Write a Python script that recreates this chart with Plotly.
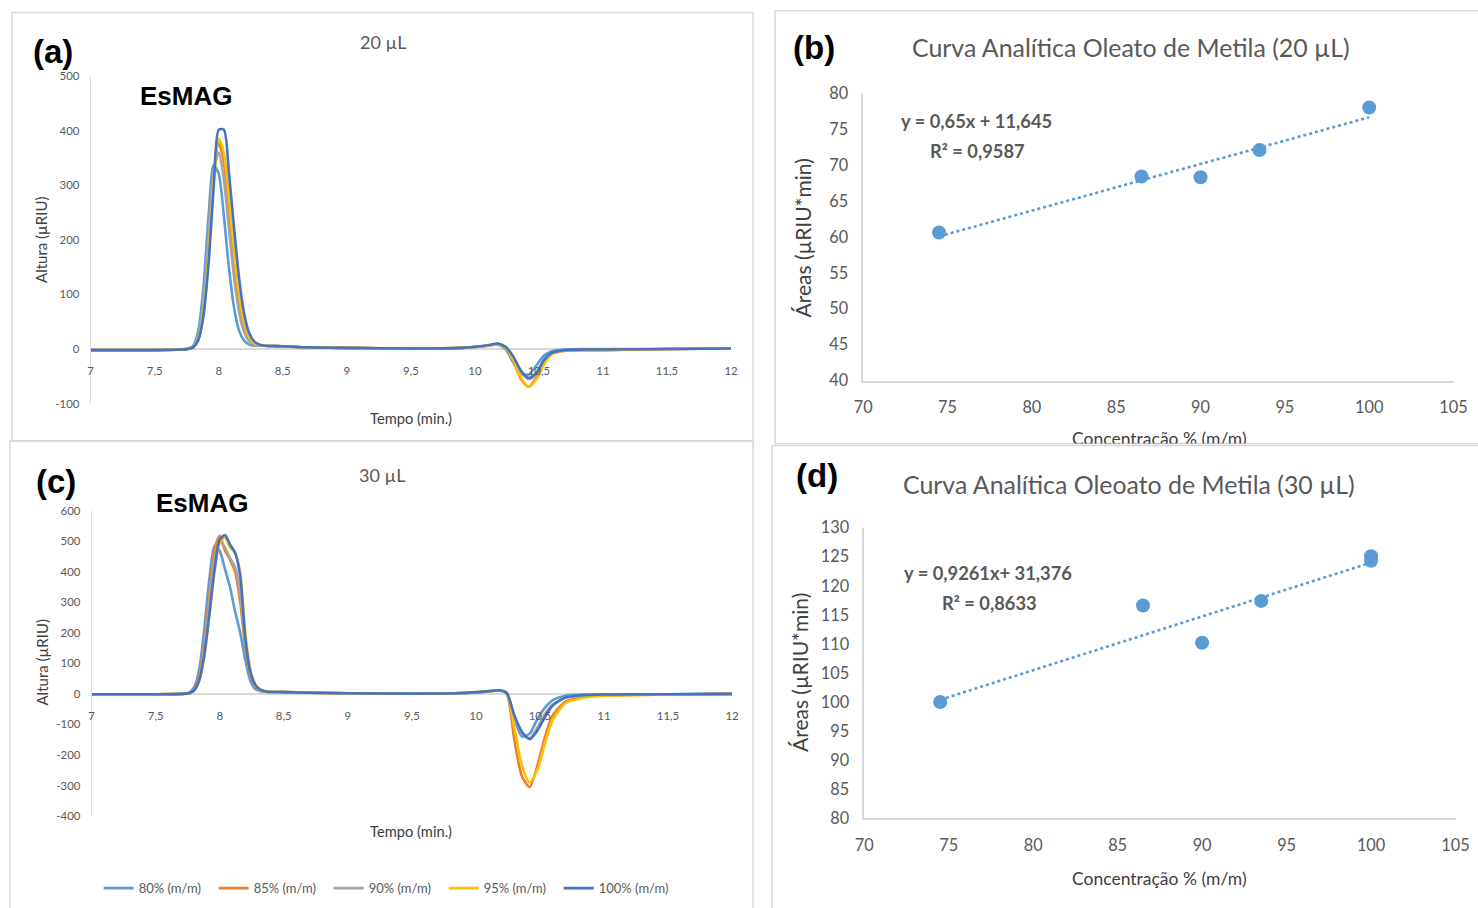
import plotly.graph_objects as go

# Figure size and the measured mapping figure-pixel -> photographed pixel
FW, FH = 1478, 908
OX, OY = 9.4, 9.9        # where the figure origin lands in the photo
SX, SY = 0.9838, 0.9779  # scale of the photo relative to figure pixels

# ---------------- data ----------------
time_min = [7.0, 7.5, 7.7,
            7.76, 7.80, 7.84, 7.88, 7.92, 7.96, 8.00, 8.04, 8.08, 8.12, 8.16, 8.20, 8.24, 8.28, 8.32, 8.36,
            8.5, 8.7, 9.0, 9.5, 9.9,
            10.1, 10.18,
            10.24, 10.30, 10.36, 10.42, 10.48, 10.54, 10.60,
            10.70, 10.85, 11.0, 11.5, 12.0]

# 20 uL chromatograms (Altura, uRIU)
h20_80 = [-2, -2, -1, 1, 6, 33, 111, 242, 337, 321, 244, 148, 75, 33, 15, 8, 6, 6, 6,
          5, 3, 2, 1, 2, 6, 8, 0, -25, -45, -47, -30, -12, -4, -1, 0, 0, 0, 1]
h20_85 = [-2, -2, -1, 0, 3, 18, 69, 177, 313, 378, 342, 255, 158, 83, 38, 17, 9, 7, 6,
          5, 3, 2, 1, 2, 6, 9, 2, -22, -55, -69, -52, -25, -9, -3, -2, -2, 0, 1]
h20_90 = [-2, -2, -1, 0, 5, 25, 87, 203, 326, 360, 310, 220, 131, 66, 30, 14, 8, 7, 6,
          5, 3, 2, 1, 2, 6, 9, 3, -15, -42, -55, -45, -20, -8, -3, -2, -2, 0, 1]
h20_95 = [-2, -2, -1, 0, 3, 17, 64, 168, 306, 385, 359, 277, 180, 98, 47, 21, 10, 7, 6,
          5, 3, 2, 1, 2, 6, 9, 3, -20, -52, -69, -56, -28, -10, -3, -2, -2, 0, 1]
h20_100 = [-2, -2, -1, 0, 3, 16, 59, 155, 294, 402, 402, 322, 221, 128, 63, 28, 13, 8, 6,
           5, 3, 2, 1, 2, 7, 10, 4, -14, -40, -53, -44, -20, -7, -2, -1, -1, 0, 1]

# 30 uL chromatograms
h30_80 = [-1, -1, 0, 4, 22, 80, 215, 380, 485, 468, 410, 350, 270, 200, 110, 42, 15, 9, 7,
          6, 4, 2, 1, 3, 8, 11, 3, -80, -140, -130, -82, -45, -20, -6, -2, -1, -1, 0]
h30_85 = [-1, -1, 0, 3, 15, 60, 170, 330, 475, 518, 470, 440, 400, 300, 150, 60, 22, 11, 7,
          6, 4, 2, 1, 3, 9, 12, 0, -150, -270, -305, -235, -140, -70, -25, -10, -5, -2, 0]
h30_90 = [-1, -1, 0, 2, 12, 50, 150, 305, 445, 500, 480, 445, 415, 330, 165, 65, 24, 12, 7,
          6, 4, 2, 1, 3, 8, 11, 2, -75, -130, -145, -110, -65, -35, -12, -5, -3, -1, 0]
h30_95 = [-1, -1, 0, 2, 10, 42, 125, 260, 400, 495, 512, 480, 462, 395, 200, 80, 30, 14, 8,
          6, 4, 2, 1, 3, 8, 11, 3, -110, -235, -290, -250, -160, -85, -30, -12, -6, -2, 0]
h30_100 = [-1, -1, 0, 2, 12, 45, 130, 265, 410, 505, 520, 490, 462, 385, 180, 70, 28, 13, 8,
           6, 4, 2, 1, 3, 9, 12, 4, -70, -125, -148, -120, -75, -38, -12, -4, -2, -1, 0]

series_names = ["80% (m/m)", "85% (m/m)", "90% (m/m)", "95% (m/m)", "100% (m/m)"]
series_colors = ["#5B9BD5", "#ED7D31", "#A5A5A5", "#FFC000", "#4472C4"]

# tick labels (hyphen minus as in the original)
yt_20 = [-100, 0, 100, 200, 300, 400, 500]
yt_20_text = ["-100", "0", "100", "200", "300", "400", "500"]
yt_30 = [-400, -300, -200, -100, 0, 100, 200, 300, 400, 500, 600]
yt_30_text = ["-400", "-300", "-200", "-100", "0", "100", "200", "300", "400", "500", "600"]

# calibration curves
conc_20 = [74.5, 86.5, 90.0, 93.5, 100.0]
area_20 = [60.6, 68.4, 68.3, 72.1, 78.0]
conc_30 = [74.5, 86.5, 90.0, 93.5, 100.0, 100.0]
area_30 = [100.0, 116.6, 110.2, 117.4, 124.3, 125.1]
slope_20, icpt_20, r2_20 = 0.65, 11.645, 0.9587
slope_30, icpt_30, r2_30 = 0.9261, 31.376, 0.8633

# ---------------- styles ----------------
CAL = "Lato, Open Sans, sans-serif"
ARIAL = "Liberation Sans, Arial, sans-serif"
GRAY = "#595959"
DARK = "#404040"
AXC = "#D9D9D9"


def px(x):
    return (x - OX) / SX / FW


def py(y):
    return 1 - (y - OY) / SY / FH


fig = go.Figure()

chrom_20 = [h20_80, h20_85, h20_90, h20_95, h20_100]
chrom_30 = [h30_80, h30_85, h30_90, h30_95, h30_100]
for name, col, ys in zip(series_names, series_colors, chrom_20):
    fig.add_trace(go.Scatter(x=time_min, y=ys, mode="lines", name=name,
                             line=dict(color=col, width=2.6, shape="spline", smoothing=0.7),
                             xaxis="x", yaxis="y", showlegend=True))
for name, col, ys in zip(series_names, series_colors, chrom_30):
    fig.add_trace(go.Scatter(x=time_min, y=ys, mode="lines", name=name,
                             line=dict(color=col, width=2.6, shape="spline", smoothing=0.7),
                             xaxis="x3", yaxis="y3", showlegend=False))

# calibration (b)
fig.add_trace(go.Scatter(x=[min(conc_20), max(conc_20)],
                         y=[slope_20 * min(conc_20) + icpt_20, slope_20 * max(conc_20) + icpt_20],
                         mode="lines", line=dict(color="#5B9BD5", width=2.6, dash="dot"),
                         xaxis="x2", yaxis="y2", showlegend=False))
fig.add_trace(go.Scatter(x=conc_20, y=area_20, mode="markers",
                         marker=dict(color="#5B9BD5", size=14), cliponaxis=False,
                         xaxis="x2", yaxis="y2", showlegend=False))
# calibration (d)
fig.add_trace(go.Scatter(x=[min(conc_30), max(conc_30)],
                         y=[slope_30 * min(conc_30) + icpt_30, slope_30 * max(conc_30) + icpt_30],
                         mode="lines", line=dict(color="#5B9BD5", width=2.6, dash="dot"),
                         xaxis="x4", yaxis="y4", showlegend=False))
fig.add_trace(go.Scatter(x=conc_30, y=area_30, mode="markers",
                         marker=dict(color="#5B9BD5", size=14), cliponaxis=False,
                         xaxis="x4", yaxis="y4", showlegend=False))

# clipped axis title of (b) (partly hidden by panel (d))
fig.add_trace(go.Scatter(x=[1159], y=[440], mode="text", text=["Concentração % (m/m)"],
                         textfont=dict(family=CAL, size=17.5, color=DARK),
                         cliponaxis=True, xaxis="x5", yaxis="y5", showlegend=False,
                         hoverinfo="skip"))


def free_pos(dom, rng):
    return dom[0] + (0 - rng[0]) / (rng[1] - rng[0]) * (dom[1] - dom[0])


ya_dom, ya_rng = [py(403), py(76)], [-100, 500]
yc_dom, yc_rng = [py(815), py(510)], [-400, 600]

tick_small = dict(family=CAL, size=11.4, color=GRAY)
tick_big = dict(family=CAL, size=16.3, color=GRAY)

common_chrom_x = dict(range=[7, 12], dtick=0.5, tick0=7, showgrid=False, showline=False,
                      zeroline=False, ticks="outside", ticklen=11, tickcolor="rgba(0,0,0,0)",
                      tickfont=tick_small, anchor="free")
common_chrom_y = dict(showgrid=False, showline=True, linecolor=AXC, linewidth=1,
                      zeroline=True, zerolinecolor=AXC, zerolinewidth=1.5, tickmode="array",
                      ticks="outside", ticklen=8, tickcolor="rgba(0,0,0,0)", tickfont=tick_small)
common_cal_x = dict(range=[70, 105], dtick=5, showgrid=False, showline=True, linecolor=AXC,
                    linewidth=1.5, zeroline=False, ticks="outside", ticklen=11.5,
                    tickcolor="rgba(0,0,0,0)", tickfont=tick_big)
common_cal_y = dict(dtick=5, showgrid=False, showline=True, linecolor=AXC, linewidth=1.5,
                    zeroline=False, ticks="outside", ticklen=10, tickcolor="rgba(0,0,0,0)",
                    tickfont=tick_big)

fig.update_layout(
    width=FW, height=FH, margin=dict(l=0, r=0, t=0, b=0), autosize=False,
    paper_bgcolor="white", plot_bgcolor="rgba(0,0,0,0)", separators=",.",
    xaxis=dict(domain=[px(91), px(731)], position=free_pos(ya_dom, ya_rng), **common_chrom_x),
    yaxis=dict(domain=ya_dom, range=ya_rng, anchor="x", tickvals=yt_20, ticktext=yt_20_text,
               **common_chrom_y),
    xaxis3=dict(domain=[px(92), px(732)], position=free_pos(yc_dom, yc_rng), **common_chrom_x),
    yaxis3=dict(domain=yc_dom, range=yc_rng, anchor="x3", tickvals=yt_30, ticktext=yt_30_text,
                **common_chrom_y),
    xaxis2=dict(domain=[px(863), px(1453)], anchor="y2", **common_cal_x),
    yaxis2=dict(domain=[py(380), py(93)], range=[40, 80], anchor="x2", **common_cal_y),
    xaxis4=dict(domain=[px(864), px(1455)], anchor="y4", **common_cal_x),
    yaxis4=dict(domain=[py(817), py(527)], range=[80, 130], anchor="x4", **common_cal_y),
    xaxis5=dict(domain=[px(776), 1], range=[776, OX + SX * FW], visible=False, anchor="y5"),
    yaxis5=dict(domain=[py(443), 1], range=[443, OY], visible=False, anchor="x5"),
    legend=dict(orientation="h", x=px(99), y=py(887), xanchor="left", yanchor="middle",
                font=dict(family=CAL, size=13, color=GRAY), entrywidth=70,
                entrywidthmode="pixels", bgcolor="rgba(0,0,0,0)", traceorder="normal"),
    showlegend=True,
)

# panel borders
boxes = [(12.5, 12.5, 753, 440.5), (10.3, 440.5, 753, 930), (775, 10.7, 1500, 443), (772, 445, 1500, 930)]
for x0, y0, x1, y1 in boxes:
    fig.add_shape(type="rect", xref="paper", yref="paper", x0=px(x0), x1=px(x1), y0=py(y1), y1=py(y0),
                  line=dict(color=AXC, width=1.5), fillcolor="rgba(0,0,0,0)", layer="below")


def ann(text, x, y, size, color="black", family=CAL, angle=0):
    fig.add_annotation(text=text, x=px(x), y=py(y), xref="paper", yref="paper",
                       showarrow=False, xanchor="center", yanchor="middle", textangle=angle,
                       font=dict(family=family, size=size, color=color))


def fmt(v):
    return str(v).replace(".", ",")


ann("<b>(a)</b>", 53, 51, 33, family=ARIAL)
ann("20 µL", 383, 42, 18, GRAY)
ann("<b>EsMAG</b>", 186, 96, 26, family=ARIAL)
ann("Altura (µRIU)", 42, 240, 15, DARK, angle=-90)
ann("Tempo (min.)", 411, 417, 14.7, DARK)

ann("<b>(c)</b>", 56, 481, 33, family=ARIAL)
ann("30 µL", 382, 474, 18, GRAY)
ann("<b>EsMAG</b>", 202, 502, 26, family=ARIAL)
ann("Altura (µRIU)", 42, 662, 15, DARK, angle=-90)
ann("Tempo (min.)", 411, 830, 14.7, DARK)

ann("<b>(b)</b>", 814, 47, 33, family=ARIAL)
ann("Curva Analítica Oleato de Metila (20 µL)", 1131, 47, 24.9, GRAY)
ann("Áreas (µRIU*min)", 802, 238, 21, DARK, angle=-90)
ann(f"<b>y = {fmt(slope_20)}x + {fmt(icpt_20)}</b>", 976, 121, 18.3, GRAY)
ann(f"<b>R² = {fmt(r2_20)}</b>", 977, 151, 18.3, GRAY)

ann("<b>(d)</b>", 817, 475, 33, family=ARIAL)
ann("Curva Analítica Oleoato de Metila (30 µL)", 1129, 483, 24.9, GRAY)
ann("Áreas (µRIU*min)", 800, 672, 21, DARK, angle=-90)
ann(f"<b>y = {fmt(slope_30)}x+ {fmt(icpt_30)}</b>", 988, 572, 18.3, GRAY)
ann(f"<b>R² = {fmt(r2_30)}</b>", 989, 602, 18.3, GRAY)
ann("Concentração % (m/m)", 1159, 877, 17.5, DARK)

fig.write_html("out.html")
